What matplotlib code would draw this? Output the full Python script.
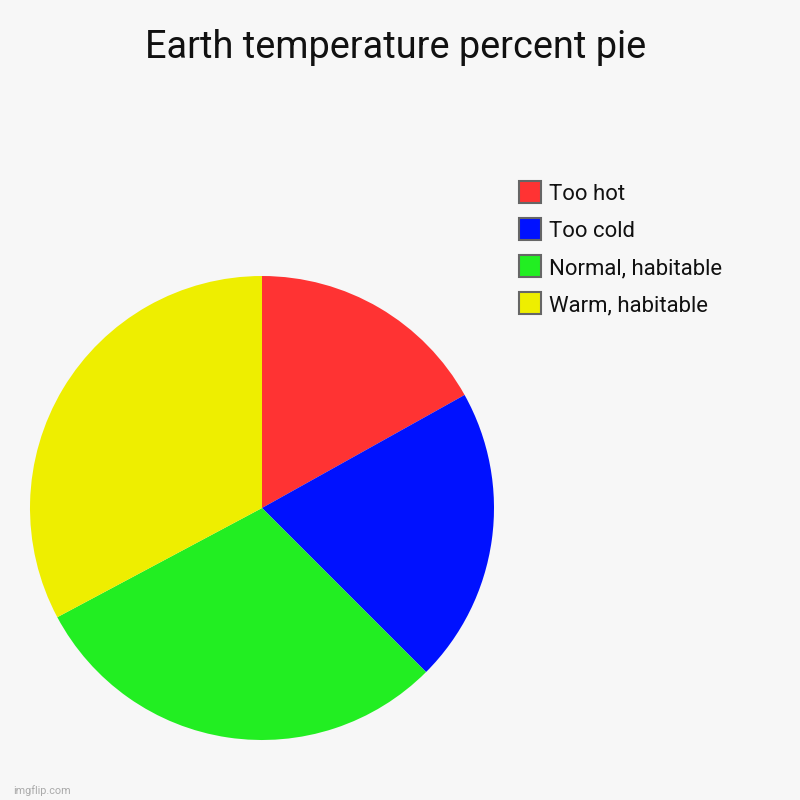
import matplotlib.pyplot as plt
from matplotlib.patches import Rectangle

plt.rcParams['font.family'] = ['Roboto', 'DejaVu Sans']

labels = ['Too hot', 'Too cold', 'Normal, habitable', 'Warm, habitable']
values = [16.9, 20.6, 29.7, 32.8]
colors = ['#ff3333', '#0011ff', '#22ee22', '#eeee00']

fig = plt.figure(figsize=(8, 8), dpi=100, facecolor='#f7f7f7')

# pie axes: centre ~ (262, 508) px, radius ~232 px
ax = fig.add_axes([262 / 800 - 232 / 800, 60 / 800, 464 / 800, 464 / 800])
ax.set_facecolor('#f7f7f7')
ax.pie(values, colors=colors, startangle=90, counterclock=False, radius=1,
       wedgeprops=dict(linewidth=0))
ax.set_xlim(-1, 1)
ax.set_ylim(-1, 1)
ax.set_aspect('equal')
ax.axis('off')

fig.text(0.495, 1 - 47 / 800, 'Earth temperature percent pie', ha='center', va='center',
         fontsize=27.3, color='#111111')

# legend, drawn by hand
for i, (lab, col) in enumerate(zip(labels, colors)):
    yc = 192 + i * 37
    fig.patches.append(Rectangle((519 / 800, 1 - (yc + 11) / 800), 22 / 800, 22 / 800,
                                 facecolor=col, edgecolor='#666666', linewidth=1.5,
                                 transform=fig.transFigure, figure=fig))
    fig.text(549 / 800, 1 - yc / 800, lab, ha='left', va='center_baseline',
             fontsize=15.9, color='#111111')

fig.text(13 / 800, 1 - 791 / 800, 'imgflip.com', ha='left', va='center',
         fontsize=7.8, color='#aaaaaa')

fig.savefig('out.png', dpi=100, facecolor=fig.get_facecolor())
